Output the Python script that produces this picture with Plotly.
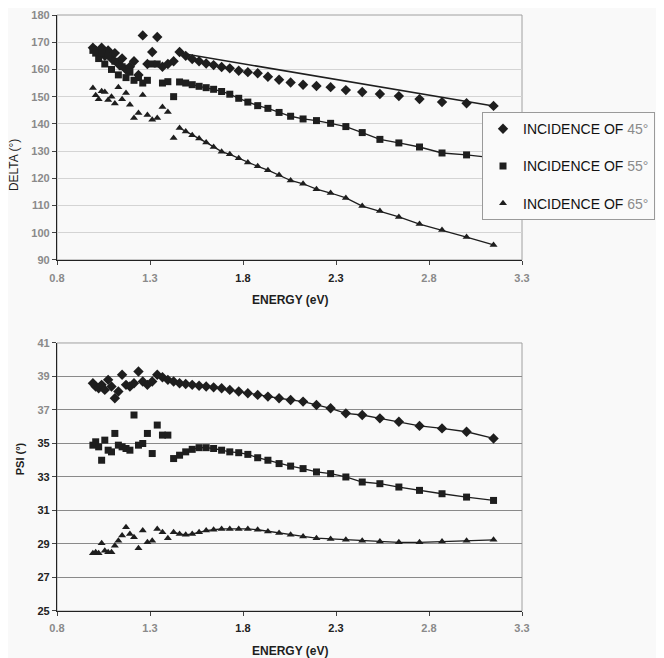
import plotly.graph_objects as go

# Photon energies (eV) shared by all series
energy = [0.993, 1.008, 1.024, 1.040, 1.057, 1.075, 1.093, 1.111, 1.130, 1.150,
          1.171, 1.192, 1.214, 1.238, 1.261, 1.286, 1.312, 1.339, 1.367, 1.396,
          1.427, 1.459, 1.492, 1.527, 1.564, 1.602, 1.642, 1.685, 1.729, 1.777,
          1.826, 1.879, 1.934, 1.994, 2.056, 2.123, 2.195, 2.271, 2.353, 2.441,
          2.536, 2.638, 2.749, 2.870, 3.002, 3.147]

delta_45 = [168, 167, 166, 168, 165, 167, 164, 166, 162, 164,
            160, 161, 163, 158, 172.5, 162, 166.4, 171.9, 161, 162,
            163, 166.4, 165.0, 163.8, 163.0, 162.2, 161.6, 160.9, 160.4, 159.5,
            159.0, 158.6, 157.3, 156.2, 155.2, 154.4, 153.9, 153.5, 152.4, 151.7,
            151.0, 150.2, 149.1, 148.0, 147.6, 146.6]
delta_55 = [167, 166, 164, 166, 162, 165, 160, 163, 158, 161,
            157, 159, 156, 157, 155, 156, 162, 162, 155, 155.5,
            150, 155.4, 155.0, 154.4, 153.8, 153.3, 152.7, 151.9, 150.9, 149.4,
            148.0, 146.7, 145.7, 144.2, 142.8, 141.8, 141.2, 140.2, 139.0, 136.8,
            134.3, 133.0, 131.5, 129.3, 128.6, 127.5]
delta_65 = [153.2, 150.5, 149, 152, 151.7, 148.8, 150, 147.5, 153.5, 149,
            151.3, 147, 142.2, 144, 150.6, 143.3, 141.5, 142.2, 146.2, 144.4,
            134.8, 138.5, 137.2, 135.8, 134.6, 133.2, 131.5, 129.8, 128.8, 127.4,
            125.8, 124.4, 123.0, 121.2, 119.2, 118.0, 116.0, 114.6, 112.8, 109.8,
            108.0, 105.8, 103.2, 101.0, 98.4, 95.5]

# straight trend line drawn through the 45° DELTA data
fit45_energy = [1.459, 3.147]
fit45_delta = [166.0, 146.6]

psi_45 = [38.6, 38.4, 38.3, 38.5, 38.2, 38.8, 38.4, 37.7, 38.1, 39.1,
          38.5, 38.4, 38.6, 39.3, 38.7, 38.5, 38.7, 39.1, 38.95, 38.8,
          38.7, 38.6, 38.55, 38.5, 38.45, 38.4, 38.35, 38.3, 38.2, 38.1,
          38.0, 37.9, 37.8, 37.7, 37.6, 37.5, 37.3, 37.1, 36.8, 36.7,
          36.5, 36.3, 36.05, 35.9, 35.7, 35.3]
psi_55 = [34.9, 35.1, 34.8, 34.0, 35.2, 34.6, 34.5, 35.6, 34.9, 34.8,
          34.7, 34.6, 36.7, 34.9, 35.0, 35.6, 34.4, 36.1, 35.5, 35.5,
          34.1, 34.3, 34.5, 34.65, 34.75, 34.75, 34.7, 34.6, 34.5, 34.45,
          34.35, 34.15, 34.0, 33.8, 33.65, 33.5, 33.3, 33.2, 33.0, 32.7,
          32.6, 32.4, 32.2, 32.0, 31.8, 31.6]
psi_65 = [28.45, 28.5, 28.45, 29.05, 28.6, 28.5, 28.5, 28.9, 29.2, 29.5,
          30.0, 29.6, 29.4, 28.75, 29.8, 29.1, 29.2, 29.9, 29.7, 29.35,
          29.7, 29.6, 29.55, 29.6, 29.7, 29.8, 29.85, 29.9, 29.9, 29.9,
          29.9, 29.85, 29.75, 29.65, 29.55, 29.45, 29.35, 29.3, 29.25, 29.2,
          29.15, 29.1, 29.1, 29.15, 29.2, 29.25]

angles = ["45°", "55°", "65°"]
symbols = ["diamond", "square", "triangle-up"]

x_ticks = [0.8, 1.3, 1.8, 2.3, 2.8, 3.3]
x_labels = ["0.8", "1.3", "1.8", "2.3", "2.8", "3.3"]
delta_ticks = [90, 100, 110, 120, 130, 140, 150, 160, 170, 180]
psi_ticks = [25, 27, 29, 31, 33, 35, 37, 39, 41]

INK = "#1e1e1e"
FAINT = "#8a8a8a"
FONT = "Liberation Sans"


def faded(label, fade):
    return f"<span style='color:{FAINT}'>{label}</span>" if fade else label


x_ticktext = [faded(t, t not in ("1.8", "2.3")) for t in x_labels]
delta_ticktext = [faded(str(v), True) for v in delta_ticks]
psi_ticktext = [faded(str(v), v >= 37) for v in psi_ticks]
legend_names = [f"INCIDENCE OF {faded(a, True)}" for a in angles]

fig = go.Figure()

# --- top chart: DELTA ---
fig.add_trace(go.Scatter(x=fit45_energy, y=fit45_delta, mode="lines",
                         line=dict(color=INK, width=1.5), showlegend=False,
                         xaxis="x", yaxis="y"))
for ys, start in [(delta_55, 21), (delta_65, 21)]:
    fig.add_trace(go.Scatter(x=energy[start:], y=ys[start:], mode="lines",
                             line=dict(color=INK, width=1.3), showlegend=False,
                             xaxis="x", yaxis="y"))
for i, ys in enumerate([delta_45, delta_55, delta_65]):
    fig.add_trace(go.Scatter(x=energy, y=ys, mode="markers", name=legend_names[i],
                             legendgroup=angles[i],
                             marker=dict(symbol=symbols[i], size=7 if i else 8, color=INK),
                             xaxis="x", yaxis="y"))

# --- bottom chart: PSI ---
for ys, start in [(psi_45, 17), (psi_55, 20), (psi_65, 20)]:
    fig.add_trace(go.Scatter(x=energy[start:], y=ys[start:], mode="lines",
                             line=dict(color=INK, width=1.3), showlegend=False,
                             xaxis="x2", yaxis="y2"))
for i, ys in enumerate([psi_45, psi_55, psi_65]):
    fig.add_trace(go.Scatter(x=energy, y=ys, mode="markers", name=legend_names[i],
                             showlegend=False, legendgroup=angles[i],
                             marker=dict(symbol=symbols[i], size=7 if i else 8, color=INK),
                             xaxis="x2", yaxis="y2"))

axis_common = dict(showline=True, linecolor="#222", linewidth=1.2,
                   ticks="outside", ticklen=4, tickcolor="#444",
                   tickfont=dict(family=FONT, size=11, color="#222", weight="bold"),
                   zeroline=False)

fig.update_layout(
    width=656, height=650,
    margin=dict(l=49, r=142, t=7, b=47, autoexpand=False),
    paper_bgcolor="#f9f9f9", plot_bgcolor="#f9f9f9",
    font=dict(family=FONT, color=INK),
    xaxis=dict(domain=[0, 1], range=[0.8, 3.3], tickvals=x_ticks, ticktext=x_ticktext,
               showgrid=False, anchor="y", ticklabelstandoff=4, **axis_common),
    yaxis=dict(domain=[0.589, 1], range=[90, 180], tickvals=delta_ticks,
               ticktext=delta_ticktext,
               showgrid=True, gridcolor="#d4d4d4", gridwidth=1, anchor="x", **axis_common),
    xaxis2=dict(domain=[0, 1], range=[0.8, 3.3], tickvals=x_ticks, ticktext=x_ticktext,
                showgrid=False, anchor="y2", ticklabelstandoff=3, **axis_common),
    yaxis2=dict(domain=[0, 0.4497], range=[25, 41], tickvals=psi_ticks,
                ticktext=psi_ticktext,
                showgrid=True, gridcolor="#8a8a8a", gridwidth=1.2, anchor="x2", **axis_common),
    legend=dict(x=0.914, y=0.837, xanchor="left", yanchor="top",
                bgcolor="#fafafa", bordercolor="#9a9a9a", borderwidth=1,
                font=dict(family=FONT, size=14, color="#111"),
                traceorder="grouped", tracegroupgap=16, itemwidth=30),
    shapes=[
        dict(type="rect", xref="x domain", yref="y domain", x0=0, x1=1, y0=0, y1=1,
             line=dict(color="#a0a0a0", width=1), layer="below"),
        dict(type="rect", xref="x2 domain", yref="y2 domain", x0=0, x1=1, y0=0, y1=1,
             line=dict(color="#a0a0a0", width=1), layer="below"),
    ],
    annotations=[
        dict(text="<b>ENERGY (eV)</b>", xref="paper", yref="paper", x=0.5, y=0.522,
             showarrow=False, font=dict(family=FONT, size=12, color=INK)),
        dict(text="<b>ENERGY (eV)</b>", xref="paper", yref="paper", x=0.5, y=-0.082,
             showarrow=False, font=dict(family=FONT, size=12, color=INK)),
        dict(text="DELTA (°)", xref="paper", yref="paper", x=-0.112, y=0.795,
             textangle=-90, showarrow=False, font=dict(family=FONT, size=12, color=INK)),
        dict(text="<b>PSI (°)</b>", xref="paper", yref="paper", x=-0.095, y=0.225,
             textangle=-90, showarrow=False, font=dict(family=FONT, size=11, color=INK)),
    ],
)

fig.write_html("out.html")
